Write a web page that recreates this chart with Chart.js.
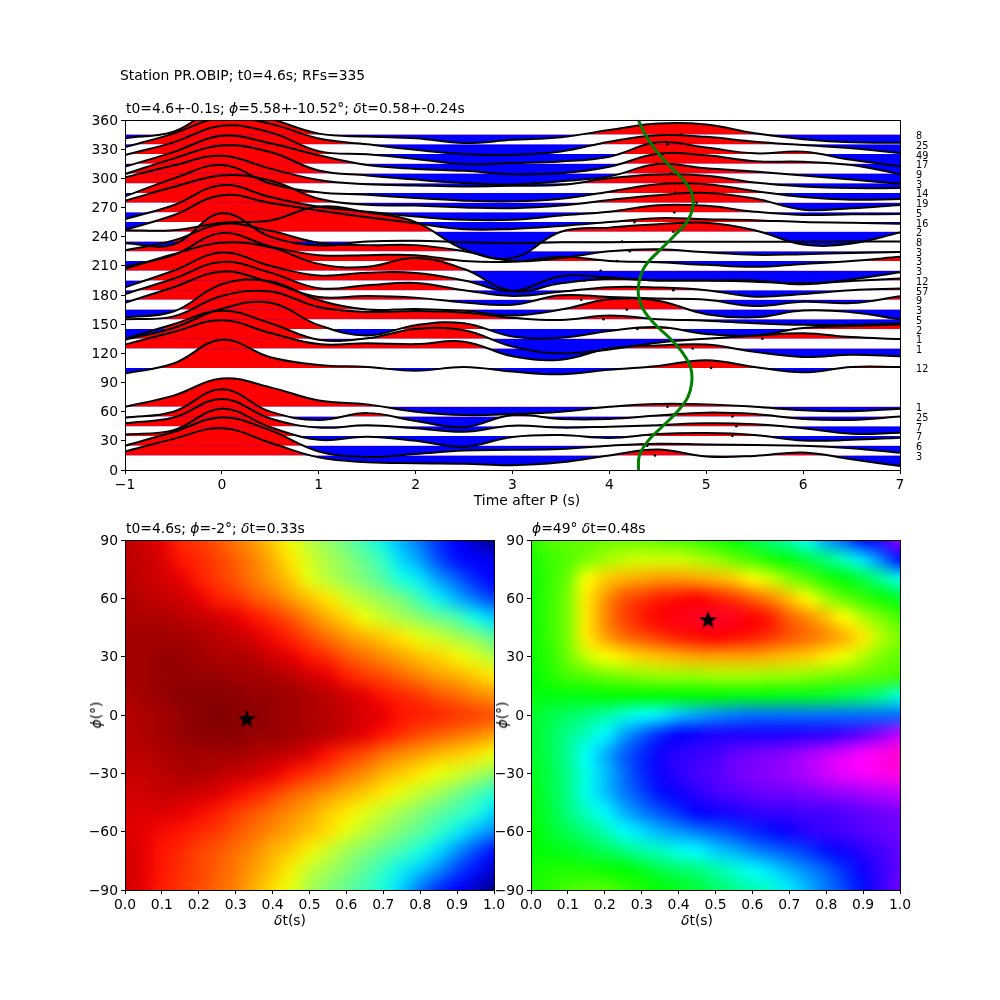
<!DOCTYPE html>
<html>
<head>
<meta charset="utf-8">
<title>Station PR.OBIP</title>
<script src="https://cdn.jsdelivr.net/npm/chart.js@4"></script>
<style>
    html, body { margin: 0; padding: 0; background: #fff; }
    body { position: relative; width: 1000px; height: 1000px; overflow: hidden; font-family: "DejaVu Sans"; color: #000; }
    canvas { position: absolute; }
    .lbl { position: absolute; font-size: 13.9px; line-height: 16px; white-space: nowrap; z-index: 2; }
    .ctr { transform: translateX(-50%); }
    .rot { transform: translate(-50%, -50%) rotate(-90deg); }
</style>
</head>
<body>
<canvas id="traces" width="1000" height="510" style="left:0;top:0"></canvas>
<canvas id="heatLeft" width="513" height="410" style="left:0;top:520px"></canvas>
<canvas id="heatRight" width="505" height="410" style="left:495px;top:520px"></canvas>

<div class="lbl" style="left:120px;top:67px">Station PR.OBIP; t0=4.6s; RFs=335</div>
<div class="lbl" style="left:126px;top:100px">t0=4.6+-0.1s; <i>ϕ</i>=5.58+-10.52°; <i>δ</i>t=0.58+-0.24s</div>
<div class="lbl" style="left:126px;top:520px">t0=4.6s; <i>ϕ</i>=-2°; <i>δ</i>t=0.33s</div>
<div class="lbl" style="left:532px;top:520px"><i>ϕ</i>=49° <i>δ</i>t=0.48s</div>
<div class="lbl ctr" style="left:527px;top:492px">Time after P (s)</div>
<div class="lbl ctr" style="left:290px;top:912px"><i>δ</i>t(s)</div>
<div class="lbl ctr" style="left:697px;top:912px"><i>δ</i>t(s)</div>
<div class="lbl rot" style="left:96px;top:715px"><i>ϕ</i>(°)</div>
<div class="lbl rot" style="left:502px;top:715px"><i>ϕ</i>(°)</div>

<script>
const timeAxis = [-1, -0.5, 0, 0.5, 1, 1.5, 2, 2.5, 3, 3.5, 4, 4.5, 5, 5.5, 6, 6.5, 7];

const bazBins = [15, 25, 35, 45, 55, 65, 105, 125, 135, 145, 155, 165, 175, 185, 195, 205, 215, 225, 235, 245, 255, 265, 275, 285, 295, 305, 315, 325, 335, 345];
const rfCounts = [3, 6, 7, 7, 25, 1, 12, 1, 1, 2, 5, 3, 9, 57, 12, 3, 3, 3, 8, 2, 16, 5, 19, 14, 3, 9, 17, 49, 25, 8];

// wiggle amplitude per back azimuth bin, same order as bazBins, sampled on timeAxis
const traceAmps = [
    [4, 17, 28, 13, -2, -7, -8, -8.5, -10, -7, 0, 6, -1, -0.5, 3, -4, -11],
    [0, 14, 29, 15.7, -6, -11.5, -8.5, -5, -4.3, -3.4, 0, 2, 1.3, 0.7, 0, -2.6, -7.3],
    [1.5, 6, 28, 9, -4, -0.7, -5, -11, -1, 1, -2, 2, 3, 1, -4.7, -4, -1.7],
    [3, 9, 28, 8, -1.4, 1, -2, -5.7, 0.6, -1.4, -0.4, 1, 3, 2, -2, -7.7, -6.7],
    [-1.3, 5, 28, 5, -3.5, 3.5, -4.5, -11, 1.5, -2.5, -2.5, 1, 4, 2.5, -2.5, -3.5, 0],
    [0, 11.5, 29, 20, 6.5, 2.5, -5, -8.5, -7.5, -5, 0, 3, 2.5, 0, -3.5, -4.5, -2],
    [-5.7, 4.5, 29, 11, 3, 1, -3, 1, -3.8, -6.5, -2, 2, 8, 1, -4.5, 1, 1],
    [4, 17, 29, 16, 4.5, 5.5, 4.5, 7, -8, -11.5, 0, 3, 4, -3.5, -8.7, -6.5, -8],
    [0, 15, 28.8, 16, -1, 0.5, 10, 8.8, -8, -15, -11, -4, 0, 3, 5.7, 1.7, -0.3],
    [-11, 1, 21, 27, 4, -6.7, 4, 6, -7.7, -9, -2, 2, -5, -6.7, 1, 3, 4.7],
    [0, 3, 24, 28.6, 12.6, 7.6, 8.6, 7, 1.6, -0.7, 4, 0, -1.4, -4, -5.7, -5.7, -4],
    [-8, -2, 26, 29, 9.6, 0, 0.7, -1.3, -6, 0, 10.6, 9, -4.7, -8, -1, -2.7, -10],
    [-3, 13, 29, 18, 3, 4, 2.3, -2.7, -5, 4.7, 3, 1.3, 0, -6.3, -2, -3.3, 3.7],
    [-4, 11.7, 29, 18, 2, 5, 7.3, 0, -6, -1.7, 3, 2.7, 0, -6.7, -4, 0, 1.7],
    [-7, 10, 28.7, 15, 5, 8, 7.7, 0, -11, 4.3, 3, 0, 0, -1.3, -3, -0.7, 2],
    [2, 17, 28.7, 24, 7, 4, 13, 1.7, -21, -13, -8.3, -10, -10, -10, -14, -9, -1.7],
    [-6, 6, 28.7, 15, 6, 6, 6, 0, -0.7, 4.3, 0, -1.3, -4, -6, -3, 0, 4.3],
    [1, 11, 28, 21, 8.7, 6.3, 6.3, 0, -10, -7, 0, 2, -1, -3.7, -3, -1.7, -0.7],
    [-1.7, -3, 29, 5, -4, 0, 0.7, -0.7, -1.7, -0.7, -0.7, -0.3, -0.3, -0.3, -0.3, 0, 0],
    [1.7, 1.7, 9.3, 11.7, 26, 20, 10, -18, -27, 0, 4.3, 7.7, 9.3, 1.7, -13, -12, -0.7],
    [-8, 7, 27.7, 19.7, 12, 5, -1.3, -7.3, -7, -4, 0, 4, 3, 2, 0, -0.7, -1.7],
    [-7, 7.3, 28, 15.7, 5.7, 0.7, -4.3, -7.7, -7.7, -3.3, 0.7, 7.3, 6.7, 0.7, -2.7, -2, -1.7],
    [2, 16, 28, 22.7, 4, -2.3, -3, -5, -5.7, -3, 2.7, 7.7, 10, 4.3, -7.3, -5.7, -2.3],
    [-3.5, 14.7, 28.7, 9.7, 0.7, -2, -5.3, -8, -8.7, -6, 1.3, 9, 9, 2, -4.3, -7, -6.3],
    [6, 18.3, 28.3, 15, 3.3, -1, -2.3, -3.3, -2.7, -1.7, 5, 9, 7.7, 0.7, -3.3, -5, -5],
    [-0.7, 15.3, 28.7, 22, 3, -2, -6.3, -9.7, -11.3, -8, -3, 9.7, 5.3, 2, -2, -6.3, -10.7],
    [-3, 12, 28.7, 21, 8.7, -1.3, -5.3, -7.3, -10.7, -9.7, -3, 10.3, 8.7, 2.7, 2, -1.3, -10.7],
    [-1, 12, 29, 22.3, 3, -0.3, -5, -10.3, -9.3, -7.7, -2.7, 12, 6.7, 0.7, 2.3, -6, -12.7],
    [-3, 11, 27.7, 21, 6, 0, -5.7, -10, -10.7, -7.3, 2.7, 9.3, 7.7, 2.7, -0.7, -4, -9],
    [-3.7, 3, 28, 16.3, 1, -2, -3.7, -8.7, -5.3, -2.7, 4.7, 11.3, 10.3, 1.3, -4.7, -8, -8.3]
];

// small black dots on each baseline, same order as bazBins
const dotTimes = [4.47, 4.39, 5.27, 5.31, 5.27, 4.6, 5.05, 4.86, 5.58, 4.29, 3.94, 4.18, 3.71, 4.66, 3.74, 3.91, 4.08, 4.21, 4.13, 4.66, 4.26, 4.67, 4.9, 4.68, 4.57, 4.64, 4.5, 4.55, 4.6, 4.74];

// green curve
const greenBaz = [0, 15, 30, 45, 60, 75, 90, 105, 120, 135, 150, 165, 180, 195, 210, 225, 240, 255, 270, 285, 300, 315, 330, 345, 360];
const greenTime = [4.3, 4.31, 4.4, 4.55, 4.7, 4.81, 4.85, 4.84, 4.76, 4.63, 4.47, 4.35, 4.3, 4.31, 4.37, 4.51, 4.66, 4.8, 4.86, 4.85, 4.75, 4.6, 4.47, 4.37, 4.3];

const dtGrid = [0, 0.05, 0.1, 0.15, 0.2, 0.25, 0.3, 0.35, 0.4, 0.45, 0.5, 0.55, 0.6, 0.65, 0.7, 0.75, 0.8, 0.85, 0.9, 0.95, 1];
const phiGrid = [90, 80, 70, 60, 50, 40, 30, 20, 10, 0, -10, -20, -30, -40, -50, -60, -70, -80, -90];

// left panel: position on the jet colormap, one row per phiGrid entry
const leftValues = [
    [.95, .93, .91, .87, .85, .82, .78, .74, .69, .64, .58, .53, .48, .42, .36, .3, .24, .17, .11, .06, .01],
    [.95, .94, .92, .89, .87, .84, .81, .77, .72, .66, .61, .56, .52, .47, .41, .34, .28, .2, .14, .11, .09],
    [.95, .94, .93, .91, .88, .85, .82, .78, .74, .69, .63, .58, .54, .5, .45, .38, .35, .28, .22, .16, .11],
    [.96, .95, .94, .93, .91, .88, .86, .82, .79, .74, .7, .66, .61, .57, .53, .49, .42, .36, .3, .24, .19],
    [.96, .96, .96, .95, .94, .93, .91, .89, .86, .82, .77, .72, .68, .64, .6, .56, .52, .48, .44, .37, .33],
    [.97, .97, .97, .97, .96, .95, .94, .92, .9, .87, .83, .79, .75, .72, .69, .66, .63, .6, .56, .52, .46],
    [.97, .97, .98, .98, .97, .96, .96, .95, .93, .91, .89, .86, .82, .79, .76, .73, .7, .68, .65, .62, .57],
    [.97, .97, .98, .98, .98, .98, .97, .97, .96, .95, .93, .91, .88, .85, .83, .8, .77, .74, .72, .69, .66],
    [.96, .97, .98, .99, .99, .99, .99, .98, .98, .97, .96, .95, .93, .91, .89, .87, .85, .82, .8, .77, .75],
    [.95, .96, .97, .98, .99, 1, .99, .99, .98, .97, .96, .95, .94, .92, .91, .89, .88, .87, .85, .84, .82],
    [.95, .96, .97, .98, .99, .99, .99, .98, .98, .97, .96, .95, .93, .91, .89, .86, .83, .81, .79, .77, .74],
    [.95, .95, .96, .97, .97, .97, .97, .96, .95, .94, .92, .89, .86, .83, .79, .76, .74, .71, .69, .67, .64],
    [.94, .94, .95, .96, .96, .95, .94, .93, .91, .89, .86, .83, .79, .76, .72, .69, .66, .64, .61, .57, .53],
    [.93, .93, .94, .94, .93, .92, .9, .88, .85, .81, .78, .75, .72, .69, .66, .63, .59, .55, .5, .45, .4],
    [.92, .92, .92, .91, .9, .88, .85, .82, .79, .76, .73, .69, .66, .63, .59, .55, .51, .47, .43, .39, .34],
    [.92, .91, .9, .89, .87, .85, .82, .79, .76, .73, .7, .67, .63, .58, .54, .5, .46, .41, .36, .31, .26],
    [.93, .91, .89, .87, .84, .82, .79, .76, .72, .69, .65, .6, .55, .51, .47, .43, .38, .34, .27, .2, .14],
    [.93, .91, .89, .86, .84, .81, .78, .74, .7, .65, .59, .55, .51, .46, .41, .36, .32, .26, .19, .14, .06],
    [.93, .91, .88, .86, .83, .8, .77, .72, .67, .63, .56, .51, .47, .43, .38, .33, .24, .17, .11, .06, .01]
];

// right panel: position on the gist_rainbow colormap, one row per phiGrid entry
const rightValues = [
    [.37, .34, .33, .33, .32, .32, .32, .33, .34, .36, .38, .4, .44, .49, .53, .58, .65, .7, .76, .8, .88],
    [.38, .36, .34, .31, .28, .26, .25, .25, .25, .27, .29, .32, .35, .38, .41, .45, .49, .54, .61, .68, .76],
    [.39, .36, .32, .22, .18, .16, .15, .14, .14, .15, .16, .18, .21, .25, .3, .34, .38, .41, .45, .51, .57],
    [.39, .36, .31, .2, .14, .09, .07, .05, .04, .03, .05, .07, .1, .13, .17, .22, .28, .33, .36, .39, .43],
    [.39, .36, .31, .2, .13, .08, .05, .03, .015, .005, 0, .01, .03, .05, .1, .13, .17, .215, .27, .31, .35],
    [.39, .36, .31, .2, .15, .11, .09, .07, .05, .04, .03, .04, .05, .07, .09, .11, .13, .16, .2, .27, .31],
    [.39, .37, .32, .26, .22, .2, .18, .17, .16, .15, .15, .15, .15, .16, .17, .18, .2, .23, .27, .31, .33],
    [.4, .38, .35, .34, .32, .31, .3, .29, .29, .29, .28, .28, .28, .29, .29, .3, .31, .32, .33, .34, .35],
    [.41, .41, .41, .41, .4, .4, .4, .4, .4, .4, .4, .41, .41, .41, .42, .42, .43, .45, .47, .5, .56],
    [.43, .45, .47, .49, .52, .55, .58, .6, .63, .65, .67, .68, .69, .69, .69, .69, .69, .69, .69, .69, .69],
    [.43, .46, .5, .54, .59, .65, .7, .74, .77, .78, .79, .79, .79, .79, .79, .8, .8, .82, .84, .87, .91],
    [.43, .46, .51, .58, .64, .7, .74, .78, .8, .81, .82, .84, .85, .86, .87, .89, .91, .93, .95, .97, .99],
    [.42, .45, .5, .57, .63, .69, .74, .78, .8, .82, .83, .85, .86, .87, .88, .9, .92, .94, .95, .97, .98],
    [.41, .45, .5, .57, .63, .68, .72, .76, .78, .8, .82, .83, .84, .85, .85, .86, .87, .88, .89, .9, .91],
    [.41, .44, .49, .54, .59, .64, .68, .71, .74, .77, .78, .79, .8, .81, .81, .82, .82, .83, .84, .85, .86],
    [.4, .43, .46, .49, .53, .58, .61, .64, .66, .68, .7, .72, .74, .76, .78, .8, .81, .82, .83, .84, .85],
    [.4, .41, .42, .44, .46, .49, .52, .54, .57, .59, .62, .64, .67, .69, .71, .73, .76, .78, .8, .82, .84],
    [.39, .38, .38, .38, .39, .4, .42, .45, .47, .49, .52, .55, .58, .61, .64, .67, .7, .74, .78, .81, .84],
    [.38, .37, .35, .34, .34, .36, .38, .4, .42, .44, .47, .5, .53, .55, .6, .64, .68, .72, .76, .81, .85]
];

const leftBest = { x: 0.33, y: -2 };
const rightBest = { x: 0.48, y: 49 };

const jetStops = [
    [0, 0, 0, 128], [0.11, 0, 0, 255], [0.125, 0, 0, 255], [0.34, 0, 216, 255], [0.375, 20, 255, 228],
    [0.64, 235, 255, 10], [0.66, 255, 232, 0], [0.89, 255, 20, 0], [0.91, 232, 0, 0], [1, 128, 0, 0]
];
const rainbowStops = [
    [0, 255, 0, 41], [0.03, 255, 0, 0], [0.215, 255, 255, 0], [0.4, 0, 255, 0],
    [0.586, 0, 255, 255], [0.77, 0, 0, 255], [0.954, 255, 0, 255], [1, 255, 0, 191]
];

const FONT = { family: "DejaVu Sans", size: 13.9 };

function minusSign(text) {
    return String(text).replace("-", "\u2212");
}

function cmapColor(stops, v) {
    for (let i = 1; i < stops.length; i++) {
        if (v <= stops[i][0]) {
            const a = stops[i - 1];
            const b = stops[i];
            const f = (v - a[0]) / (b[0] - a[0]);
            const ch = k => Math.round(a[k] + (b[k] - a[k]) * f);
            return `rgb(${ch(1)},${ch(2)},${ch(3)})`;
        }
    }
    const last = stops[stops.length - 1];
    return `rgb(${last[1]},${last[2]},${last[3]})`;
}

function makeStar(size) {
    const c = document.createElement("canvas");
    c.width = size;
    c.height = size;
    const ctx = c.getContext("2d");
    const mid = size / 2;
    ctx.beginPath();
    for (let i = 0; i < 10; i++) {
        const r = i % 2 === 0 ? mid : mid * 0.4;
        const a = -Math.PI / 2 + i * Math.PI / 5;
        ctx.lineTo(mid + r * Math.cos(a), mid + 0.5 + r * Math.sin(a));
    }
    ctx.closePath();
    ctx.fillStyle = "#000";
    ctx.fill();
    return c;
}

const framePlugin = {
    id: "frame",
    afterDraw(chart) {
        const a = chart.chartArea;
        const ctx = chart.ctx;
        ctx.save();
        ctx.strokeStyle = "#000";
        ctx.lineWidth = 1;
        ctx.strokeRect(Math.round(a.left) + 0.5, Math.round(a.top) + 0.5, Math.round(a.right - a.left), Math.round(a.bottom - a.top));
        ctx.restore();
    }
};

// paints the grid cells through the chart scales as a resampled image, like imshow
const heatPlugin = {
    id: "heat",
    beforeDatasetsDraw(chart) {
        const ds = chart.data.datasets[0];
        const cols = dtGrid.length;
        const rows = phiGrid.length;
        const off = document.createElement("canvas");
        off.width = cols;
        off.height = rows;
        const octx = off.getContext("2d");
        ds.data.forEach(p => {
            octx.fillStyle = cmapColor(ds.cmap, p.v);
            octx.fillRect(dtGrid.indexOf(p.x), phiGrid.indexOf(p.y), 1, 1);
        });
        const left = chart.scales.x.getPixelForValue(dtGrid[0]);
        const right = chart.scales.x.getPixelForValue(dtGrid[cols - 1]);
        const top = chart.scales.y.getPixelForValue(phiGrid[0]);
        const bottom = chart.scales.y.getPixelForValue(phiGrid[rows - 1]);
        const ctx = chart.ctx;
        ctx.save();
        ctx.imageSmoothingEnabled = true;
        ctx.imageSmoothingQuality = "high";
        ctx.drawImage(off, 0.5, 0.5, cols - 1, rows - 1, left, top, right - left, bottom - top);
        ctx.restore();
    }
};

function axisOptions(min, max, step, size, fmt, extra) {
    return Object.assign({
        type: "linear",
        min,
        max,
        afterFit(scale) {
            if (scale.isHorizontal()) scale.height = size;
            else scale.width = size;
        },
        grid: { drawOnChartArea: false, drawTicks: true, tickLength: 4, color: "#000" },
        border: { color: "#000" },
        ticks: { stepSize: step, color: "#000", font: FONT, padding: 3, maxRotation: 0, autoSkip: false, callback: fmt }
    }, extra || {});
}

function buildTraceDatasets() {
    const sets = [];
    bazBins.forEach((baz, i) => {
        sets.push({
            data: timeAxis.map((t, j) => ({ x: t, y: baz + traceAmps[i][j] })),
            borderColor: "#000",
            borderWidth: 2,
            pointRadius: 0,
            tension: 0.4,
            order: bazBins.length - i + 1,
            fill: { target: { value: baz }, above: "#ff0000", below: "#0000ff" }
        });
    });
    sets.push({
        data: bazBins.map((baz, i) => ({ x: dotTimes[i], y: baz })),
        showLine: false,
        pointRadius: 1.3,
        pointBorderWidth: 0,
        pointBackgroundColor: "#000",
        order: 1
    });
    sets.push({
        data: greenBaz.map((baz, i) => ({ x: greenTime[i], y: baz })),
        borderColor: "#008000",
        borderWidth: 3,
        pointRadius: 0,
        tension: 0.4,
        order: 0
    });
    return sets;
}

function renderTraces() {
    const xOpts = axisOptions(-1, 7, 1, 40, v => minusSign(v));
    const yOpts = axisOptions(0, 360, 30, 125, v => v);
    yOpts.ticks.labelOffset = 1;
    new Chart(document.getElementById("traces"), {
        type: "line",
        data: { datasets: buildTraceDatasets() },
        plugins: [framePlugin],
        options: {
            responsive: false,
            animation: false,
            events: [],
            layout: { padding: { top: 120, left: 0, right: 0, bottom: 0 } },
            plugins: { legend: { display: false }, tooltip: { enabled: false }, filler: { drawTime: "beforeDatasetsDraw" } },
            scales: {
                x: xOpts,
                y: yOpts,
                yr: {
                    type: "linear",
                    position: "right",
                    min: 0,
                    max: 360,
                    afterFit(scale) { scale.width = 100; },
                    afterBuildTicks(scale) { scale.ticks = bazBins.map(value => ({ value })); },
                    grid: { display: false },
                    border: { display: false },
                    ticks: { color: "#000", font: { family: "DejaVu Sans", size: 9.7 }, padding: 8, labelOffset: 2, autoSkip: false, callback: (v, i) => rfCounts[i] }
                }
            }
        }
    });
}

function renderHeat(id, values, stops, best, leftSize, rightPad) {
    const cells = [];
    phiGrid.forEach((phi, r) => dtGrid.forEach((dt, c) => cells.push({ x: dt, y: phi, v: values[r][c] })));
    const yOpts = axisOptions(-90, 90, 30, leftSize, v => minusSign(v));
    yOpts.ticks.labelOffset = 1;
    new Chart(document.getElementById(id), {
        type: "scatter",
        data: {
            datasets: [
                { data: cells, cmap: stops, pointRadius: 0 },
                { data: [best], pointStyle: makeStar(19), pointRadius: 9 }
            ]
        },
        plugins: [heatPlugin, framePlugin],
        options: {
            responsive: false,
            animation: false,
            events: [],
            layout: { padding: { top: 20, left: 0, right: rightPad, bottom: 0 } },
            plugins: { legend: { display: false }, tooltip: { enabled: false } },
            scales: {
                x: axisOptions(0, 1, 0.1, 40, v => Number(v).toFixed(1)),
                y: yOpts
            }
        }
    });
}

document.addEventListener("DOMContentLoaded", () => {
    renderTraces();
    renderHeat("heatLeft", leftValues, jetStops, leftBest, 125, 19);
    renderHeat("heatRight", rightValues, rainbowStops, rightBest, 36, 100);
});
</script>
</body>
</html>
